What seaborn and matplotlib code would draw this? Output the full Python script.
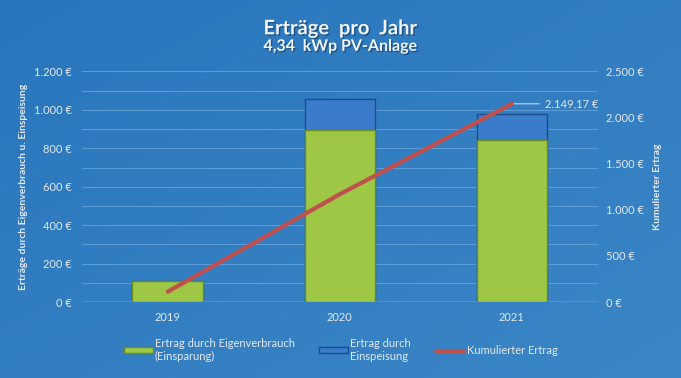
import numpy as np
import pandas as pd
import matplotlib
matplotlib.use("Agg")
import matplotlib.pyplot as plt
import matplotlib.patheffects as pe
from matplotlib.ticker import FuncFormatter, MultipleLocator
import seaborn as sns

# data
years = ["2019", "2020", "2021"]
eigenverbrauch = [112, 895, 842]
einspeisung = [0, 162, 137]
kumuliert = [112, 1169, 2149.17]

BG = "#2F7DC1"
TXT = "#E4E9F0"
GREEN = "#9DC745"
GREEN_EDGE = "#6A8A22"
BLUE = "#3A7BCB"
BLUE_EDGE = "#1E4C8A"
RED = "#C0504D"

sns.set_theme(style="white")
plt.rcParams["font.family"] = ["Lato", "DejaVu Sans"]


def euro(v, _pos=None):
    return f"{int(v):,} €".replace(",", ".")


df = pd.DataFrame({"Jahr": years, "Eigen": eigenverbrauch, "Einsp": einspeisung})
df["Gesamt"] = df["Eigen"] + df["Einsp"]

fig = plt.figure(figsize=(6.81, 3.78), dpi=100, facecolor=BG)

# gradient background
bg = fig.add_axes([0, 0, 1, 1], zorder=-10)
grad = np.linspace(0, 1, 256)
gx, gy = np.meshgrid(grad, grad)
bg.imshow(0.5 * gx + 0.5 * gy, aspect="auto", extent=[0, 1, 0, 1],
          cmap=matplotlib.colors.LinearSegmentedColormap.from_list("bg", ["#2A76BD", "#3A86C6"]))
bg.axis("off")

ax = fig.add_axes([0.120, 0.201, 0.758, 0.610])
ax.patch.set_alpha(0)

sns.barplot(data=df, x="Jahr", y="Gesamt", color=BLUE, width=0.41,
            edgecolor=BLUE_EDGE, linewidth=1.0, saturation=1, ax=ax, zorder=3)
sns.barplot(data=df, x="Jahr", y="Eigen", color=GREEN, width=0.41,
            edgecolor=GREEN_EDGE, linewidth=1.0, saturation=1, ax=ax, zorder=4)

ax.set_ylim(0, 1200)
ax.set_xlim(-0.5, len(years) - 0.5)
ax.yaxis.set_major_locator(MultipleLocator(200))
ax.yaxis.set_minor_locator(MultipleLocator(100))
ax.yaxis.set_major_formatter(FuncFormatter(euro))
ax.grid(True, axis="y", which="both", color="#5C9BD4", linewidth=0.8, zorder=0)
ax.set_axisbelow(True)
for s in ax.spines.values():
    s.set_visible(False)
ax.axhline(0, color="#C9D9EA", linewidth=1.0, zorder=2)
ax.tick_params(axis="both", which="both", colors=TXT, labelsize=8, length=0, pad=7)
ax.set_xlabel("")
ax.set_ylabel("Erträge durch Eigenverbrauch u. Einspeisung", color=TXT,
              fontsize=7.5, fontweight="bold", labelpad=4)

ax2 = ax.twinx()
sns.lineplot(x=np.arange(len(years)), y=kumuliert, color=RED, linewidth=3,
             ax=ax2, zorder=5, solid_capstyle="round")
ax2.set_ylim(0, 2500)
ax2.yaxis.set_major_locator(MultipleLocator(500))
ax2.yaxis.set_major_formatter(FuncFormatter(euro))
for s in ax2.spines.values():
    s.set_visible(False)
ax2.tick_params(axis="y", which="both", colors=TXT, labelsize=8, length=0, pad=6)
ax2.set_ylabel("Kumulierter Ertrag", color=TXT, fontsize=7.5,
               fontweight="bold", labelpad=6)
ax2.grid(False)

last = len(years) - 1
ax2.annotate(f"{kumuliert[-1]:,.2f} €".replace(",", "X").replace(".", ",").replace("X", "."),
             xy=(last, kumuliert[-1]), xytext=(24, 0), textcoords="offset points",
             color=TXT, fontsize=8, va="center", ha="left",
             arrowprops=dict(arrowstyle="-", color="#C9D9EA", lw=0.8,
                             shrinkA=2, shrinkB=1))

shadow = [pe.withSimplePatchShadow(offset=(1, -1), shadow_rgbFace="#1B4A78", alpha=0.8)]
fig.text(0.5, 0.925, "Erträge  pro  Jahr", ha="center", va="center",
         color="#F2F4F7", fontsize=14.5, fontweight="bold", path_effects=shadow)
fig.text(0.5, 0.876, "4,34  kWp PV-Anlage", ha="center", va="center",
         color="#F2F4F7", fontsize=11.5, fontweight="bold", path_effects=shadow)

handles = [
    matplotlib.patches.Patch(facecolor=GREEN, edgecolor=GREEN_EDGE),
    matplotlib.patches.Patch(facecolor=BLUE, edgecolor=BLUE_EDGE),
    matplotlib.lines.Line2D([], [], color=RED, linewidth=3),
]
labels = ["Ertrag durch Eigenverbrauch\n(Einsparung)", "Ertrag durch\nEinspeisung",
          "Kumulierter Ertrag"]
fig.legend(handles, labels, loc="center", bbox_to_anchor=(0.5, 0.075),
           ncol=3, frameon=False, fontsize=8, labelcolor=TXT,
           handlelength=2.6, handleheight=0.5, handletextpad=0.2,
           columnspacing=2.2)

fig.savefig("out.png", dpi=100, facecolor=BG)
